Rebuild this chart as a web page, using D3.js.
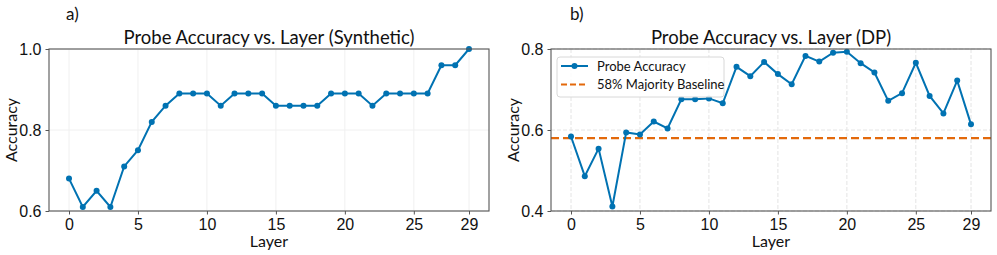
<!DOCTYPE html>
<html>
<head>
<meta charset="utf-8">
<script src="https://cdn.jsdelivr.net/npm/d3@7"></script>
<style>
  body { margin: 0; background: #fff; }
  svg { font-family: Lato, "Noto Sans", sans-serif; }
  .tick text { font-size: 16px; fill: #111; }
  .tick line { stroke: #555; }
  .domain { display: none; }
</style>
</head>
<body>
<div id="chart"></div>
<script>
// --- datos ---
const layers = [0,1,2,3,4,5,6,7,8,9,10,11,12,13,14,15,16,17,18,19,20,21,22,23,24,25,26,27,28,29];
const xTicks = [0, 5, 10, 15, 20, 25, 29];

const synthAcc = [0.68,0.61,0.65,0.61,0.71,0.75,0.82,0.86,0.89,0.89,0.89,0.86,0.89,0.89,0.89,
                  0.86,0.86,0.86,0.86,0.89,0.89,0.89,0.86,0.89,0.89,0.89,0.89,0.96,0.96,1.00];
const synthTicks = [0.6, 0.8, 1.0];

const dpAcc = [0.584,0.486,0.554,0.411,0.594,0.589,0.621,0.604,0.676,0.676,0.678,0.666,0.756,0.733,0.768,
               0.738,0.713,0.783,0.769,0.791,0.793,0.765,0.742,0.672,0.691,0.766,0.684,0.641,0.722,0.614];
const dpTicks = [0.4, 0.6, 0.8];
const baseline = 0.58;

const blue = "#0072b2", orange = "#e3690b";

const W = 997, H = 255;
const svg = d3.select("#chart").append("svg").attr("width", W).attr("height", H);

function panel(opts) {
    const {left, right, top, bottom, values, yDomain, yTicks, title, tag, gridColor, gridDash} = opts;
    const g = svg.append("g");
    const x = d3.scaleLinear().domain([-1.45, 30.45]).range([left, right]);
    const y = d3.scaleLinear().domain(yDomain).range([bottom, top]);

    // rejilla
    g.selectAll("line.gx").data(xTicks).join("line")
        .attr("x1", d => x(d)).attr("x2", d => x(d))
        .attr("y1", top).attr("y2", bottom)
        .attr("stroke", gridColor).attr("stroke-dasharray", gridDash);
    g.selectAll("line.gy").data(yTicks).join("line")
        .attr("x1", left).attr("x2", right)
        .attr("y1", d => y(d)).attr("y2", d => y(d))
        .attr("stroke", gridColor).attr("stroke-dasharray", gridDash);

    // ejes
    g.append("g").attr("transform", `translate(0,${bottom})`)
        .call(d3.axisBottom(x).tickValues(xTicks).tickSize(3.5).tickPadding(4).tickFormat(d3.format("d")));
    g.append("g").attr("transform", `translate(${left},0)`)
        .call(d3.axisLeft(y).tickValues(yTicks).tickSize(3.5).tickPadding(4).tickFormat(d3.format(".1f")));

    if (opts.baseline != null) {
        g.append("line")
            .attr("x1", left).attr("x2", right)
            .attr("y1", y(opts.baseline)).attr("y2", y(opts.baseline))
            .attr("stroke", orange).attr("stroke-width", 2.2)
            .attr("stroke-dasharray", "8,4");
    }

    const line = d3.line().x((d, i) => x(layers[i])).y(d => y(d));
    g.append("path").datum(values)
        .attr("d", line).attr("fill", "none")
        .attr("stroke", blue).attr("stroke-width", 2);
    g.selectAll("circle.pt").data(values).join("circle")
        .attr("cx", (d, i) => x(layers[i])).attr("cy", d => y(d))
        .attr("r", 3).attr("fill", blue);

    // marco
    g.append("rect")
        .attr("x", left).attr("y", top)
        .attr("width", right - left).attr("height", bottom - top)
        .attr("fill", "none").attr("stroke", "#555").attr("stroke-width", 1.1);

    g.append("text")
        .attr("x", (left + right) / 2).attr("y", top - 5)
        .attr("text-anchor", "middle").attr("font-size", 18.5).attr("fill", "#111")
        .text(title);
    g.append("text")
        .attr("x", (left + right) / 2).attr("y", bottom + 36)
        .attr("text-anchor", "middle").attr("font-size", 16).attr("fill", "#111")
        .text("Layer");
    g.append("text")
        .attr("transform", `translate(${left - 32},${(top + bottom) / 2}) rotate(-90)`)
        .attr("text-anchor", "middle").attr("font-size", 16).attr("fill", "#111")
        .text("Accuracy");
    g.append("text")
        .attr("x", opts.tagX).attr("y", 20)
        .attr("font-size", 17).attr("fill", "#111")
        .text(tag);

    return {g, x, y};
}

panel({
    left: 49, right: 489, top: 49, bottom: 211,
    values: synthAcc, yDomain: [0.6, 1.0], yTicks: synthTicks,
    title: "Probe Accuracy vs. Layer (Synthetic)", tag: "a)", tagX: 66,
    gridColor: "#f0f0f0", gridDash: null
});

const p2 = panel({
    left: 551, right: 991, top: 49, bottom: 211,
    values: dpAcc, yDomain: [0.4, 0.8], yTicks: dpTicks,
    title: "Probe Accuracy vs. Layer (DP)", tag: "b)", tagX: 570,
    gridColor: "#e4e4e4", gridDash: "4,2", baseline: baseline
});

// leyenda
const lg = p2.g.append("g").attr("transform", "translate(557,57)");
lg.append("rect").attr("width", 167).attr("height", 40).attr("rx", 3)
    .attr("fill", "#fff").attr("fill-opacity", 0.85).attr("stroke", "#d8d8d8");
lg.append("line").attr("x1", 4).attr("x2", 31).attr("y1", 9).attr("y2", 9)
    .attr("stroke", blue).attr("stroke-width", 2);
lg.append("circle").attr("cx", 17.5).attr("cy", 9).attr("r", 3).attr("fill", blue);
lg.append("text").attr("x", 40).attr("y", 13.5).attr("font-size", 13).attr("fill", "#111").text("Probe Accuracy");
lg.append("line").attr("x1", 4).attr("x2", 31).attr("y1", 27.5).attr("y2", 27.5)
    .attr("stroke", orange).attr("stroke-width", 2).attr("stroke-dasharray", "6,3");
lg.append("text").attr("x", 40).attr("y", 32).attr("font-size", 13).attr("fill", "#111").text("58% Majority Baseline");
</script>
</body>
</html>
